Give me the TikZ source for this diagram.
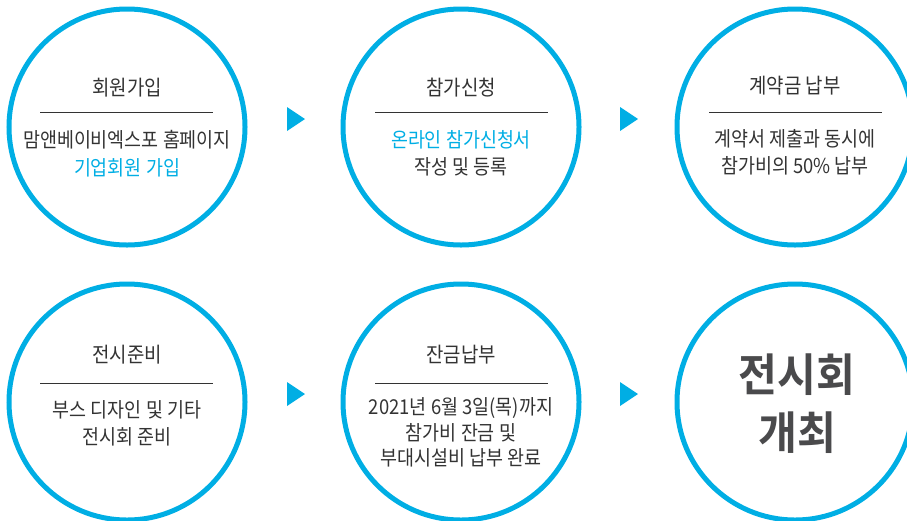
\documentclass[tikz,border=0pt]{standalone}
\usepackage{fontspec}
\newfontfamily\kr[FakeStretch=0.9]{Noto Sans CJK KR}
\newfontfamily\krb[FakeStretch=0.94]{Noto Sans CJK KR Bold}
\definecolor{cyanc}{HTML}{00AEE4}
\definecolor{txt}{HTML}{333333}
\definecolor{big}{HTML}{4A4A4C}
\begin{document}
\begin{tikzpicture}[x=1pt,y=-1pt,
  ring/.style={circle,draw=cyanc,line width=5pt,minimum size=236pt,inner sep=0pt},
  ttl/.style={font=\kr\fontsize{21}{21}\selectfont,text=txt,inner sep=0pt},
  body/.style={font=\kr\fontsize{20.5}{20.5}\selectfont,text=txt,inner sep=0pt},
  hl/.style={body,text=cyanc},
  bigt/.style={font=\krb\fontsize{45}{45}\selectfont,text=big,inner sep=0pt},
  sep/.style={draw=txt,line width=1pt},
  tri/.style={fill=cyanc}]
\useasboundingbox (0,0) rectangle (907,520);
% circles
\node[ring] (c1) at (127,127) {};
\node[ring] (c2) at (461,127) {};
\node[ring] (c3) at (795,127) {};
\node[ring] (c4) at (127,402) {};
\node[ring] (c5) at (461,402) {};
\node[ring] (c6) at (795,402) {};
% arrows
\fill[tri] (287,107) -- (305,119) -- (287,131) -- cycle;
\fill[tri] (620,107) -- (638,119) -- (620,131) -- cycle;
\fill[tri] (287,382) -- (305,394) -- (287,406) -- cycle;
\fill[tri] (620,382) -- (638,394) -- (620,406) -- cycle;
% separators
\draw[sep] (40,112) -- (213,112);
\draw[sep] (375,112) -- (548,112);
\draw[sep] (709,112) -- (882,112);
\draw[sep] (40,383) -- (213,383);
\draw[sep] (375,383) -- (548,383);
% circle 1
\node[ttl] (t1) at (127,88) {회원가입};
\node[body] (b1a) at (127,140) {맘앤베이비엑스포 홈페이지};
\node[hl] (b1b) at (127,168) {기업회원 가입};
% circle 2
\node[ttl] (t2) at (461,88) {참가신청};
\node[hl] (b2a) at (461,140) {온라인 참가신청서};
\node[body] (b2b) at (461,167) {작성 및 등록};
% circle 3
\node[ttl] (t3) at (795,86) {계약금 납부};
\node[body] (b3a) at (795,139) {계약서 제출과 동시에};
\node[body] (b3b) at (795,166) {참가비의 50\% 납부};
% circle 4
\node[ttl] (t4) at (127,355) {전시준비};
\node[body] (b4a) at (127,410) {부스 디자인 및 기타};
\node[body] (b4b) at (127,437) {전시회 준비};
% circle 5
\node[ttl] (t5) at (461,355) {잔금납부};
\node[body] (b5a) at (461,408) {2021년 6월 3일(목)까지};
\node[body] (b5b) at (461,433) {참가비 잔금 및};
\node[body] (b5c) at (461,458) {부대시설비 납부 완료};
% circle 6
\node[bigt] (t6a) at (797,375) {전시회};
\node[bigt] (t6b) at (797,433) {개최};
\end{tikzpicture}
\end{document}
